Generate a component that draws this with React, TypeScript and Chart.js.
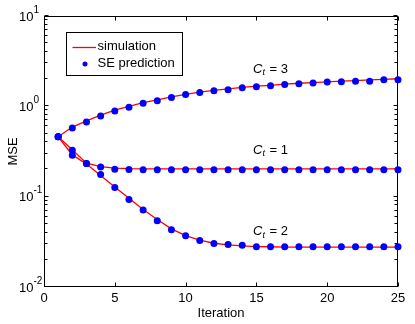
import React, { useEffect, useRef } from 'react';
import { Chart, registerables } from 'chart.js';

Chart.register(...registerables);

const FONT = '"Liberation Sans", Arial, Helvetica, sans-serif';

// ---- data ----
const iterations = [1, 2, 3, 4, 5, 6, 7, 8, 9, 10, 11, 12, 13, 14, 15, 16, 17, 18, 19, 20, 21, 22, 23, 24, 25];

const seCt3 = [0.46, 0.575, 0.67, 0.78, 0.887, 0.975, 1.08, 1.15, 1.25, 1.35, 1.42, 1.49, 1.53, 1.61, 1.65, 1.69, 1.75, 1.78, 1.81, 1.86, 1.87, 1.9, 1.9, 1.97, 1.97];
const simCt3 = [0.46, 0.59, 0.69, 0.8, 0.91, 1.0, 1.1, 1.18, 1.27, 1.36, 1.44, 1.5, 1.56, 1.62, 1.67, 1.71, 1.76, 1.8, 1.83, 1.87, 1.9, 1.93, 1.96, 1.99, 2.02];

const seCt1 = [0.46, 0.327, 0.233, 0.213, 0.201, 0.2, 0.198, 0.198, 0.198, 0.198, 0.198, 0.198, 0.198, 0.198, 0.198, 0.198, 0.198, 0.198, 0.198, 0.198, 0.198, 0.198, 0.198, 0.198, 0.198];
const simCt1 = [0.46, 0.33, 0.235, 0.215, 0.207, 0.204, 0.203, 0.203, 0.203, 0.203, 0.203, 0.203, 0.203, 0.203, 0.203, 0.203, 0.203, 0.203, 0.203, 0.203, 0.203, 0.203, 0.203, 0.203, 0.203];

const seCt2 = [0.46, 0.288, 0.233, 0.176, 0.126, 0.093, 0.071, 0.054, 0.043, 0.0369, 0.0328, 0.0304, 0.0296, 0.0289, 0.0279, 0.0279, 0.0279, 0.0279, 0.0279, 0.0279, 0.0279, 0.0279, 0.0279, 0.0279, 0.0279];
const simCt2 = [0.46, 0.29, 0.23, 0.172, 0.128, 0.096, 0.072, 0.056, 0.044, 0.037, 0.033, 0.0305, 0.0292, 0.0285, 0.028, 0.0279, 0.0277, 0.0277, 0.0277, 0.0277, 0.0277, 0.0277, 0.0277, 0.0277, 0.0277];

const xTickValues = [0, 5, 10, 15, 20, 25];
const yDecades = [-2, -1, 0, 1];
const curveLabels = ['3', '1', '2'];
const curveLabelX = [14.76, 14.76, 14.76];
const curveLabelY = [2.59, 0.329, 0.041];
const legendLabels = ['simulation', 'SE prediction'];

const RED = '#ff0000';
const BLUE = '#0000ff';

const toXY = (arr: number[]) => iterations.map((x, i) => ({ x, y: arr[i] }));

const matlabPlugin = {
  id: 'matlabDecor',
  beforeDatasetsDraw(chart: any) {
    const { ctx, chartArea: a, scales } = chart;
    const xs = scales.x;
    const ys = scales.y;
    const L = Math.round(a.left) + 0.5;
    const R = Math.round(a.right) - 0.5;
    const T = Math.round(a.top) + 0.5;
    const B = Math.round(a.bottom) - 0.5;
    ctx.save();
    ctx.strokeStyle = '#000';
    ctx.lineWidth = 1;
    ctx.strokeRect(L, T, R - L, B - T);
    ctx.beginPath();
    // x ticks (inward, bottom and top)
    xTickValues.forEach((v) => {
      const px = Math.round(xs.getPixelForValue(v)) + 0.5;
      ctx.moveTo(px, B);
      ctx.lineTo(px, B - 4);
      ctx.moveTo(px, T);
      ctx.lineTo(px, T + 4);
    });
    // y ticks (log, major + minor, left and right)
    yDecades.forEach((d) => {
      const maxM = d === yDecades[yDecades.length - 1] ? 1 : 9;
      for (let m = 1; m <= maxM; m++) {
        const v = m * Math.pow(10, d);
        const py = Math.round(ys.getPixelForValue(v)) - 0.5;
        const len = m === 1 ? 4 : 3;
        ctx.moveTo(L, py);
        ctx.lineTo(L + len, py);
        ctx.moveTo(R, py);
        ctx.lineTo(R - len, py);
      }
    });
    ctx.stroke();

    // y tick labels: 10^d
    ctx.fillStyle = '#000';
    yDecades.forEach((d) => {
      const py = ys.getPixelForValue(Math.pow(10, d));
      ctx.font = `13px ${FONT}`;
      ctx.textAlign = 'right';
      ctx.textBaseline = 'middle';
      ctx.fillText('10', a.left - 10.5, py + 1);
      ctx.font = `10px ${FONT}`;
      ctx.textAlign = 'left';
      ctx.fillText(String(d), a.left - 10.5, py - 6);
    });
    ctx.restore();
  },
  afterDatasetsDraw(chart: any) {
    const { ctx, scales } = chart;
    const xs = scales.x;
    const ys = scales.y;
    ctx.save();
    ctx.fillStyle = '#000';
    ctx.textBaseline = 'middle';
    ctx.textAlign = 'left';
    // curve annotations C_t = n
    curveLabels.forEach((lab, i) => {
      const px = xs.getPixelForValue(curveLabelX[i]);
      const py = ys.getPixelForValue(curveLabelY[i]);
      ctx.font = `italic 13px ${FONT}`;
      ctx.fillText('C', px, py);
      const w1 = ctx.measureText('C').width;
      ctx.font = `italic 9px ${FONT}`;
      ctx.fillText('t', px + w1, py + 4);
      const w2 = ctx.measureText('t').width;
      ctx.font = `13px ${FONT}`;
      ctx.fillText(' = ' + lab, px + w1 + w2 + 1, py);
    });

    // legend
    const bx = 66.5, by = 32.5, bw = 116, bh = 43;
    ctx.fillStyle = '#fff';
    ctx.fillRect(bx, by, bw, bh);
    ctx.strokeStyle = '#000';
    ctx.lineWidth = 1;
    ctx.strokeRect(bx, by, bw, bh);
    ctx.strokeStyle = RED;
    ctx.lineWidth = 1.3;
    ctx.beginPath();
    ctx.moveTo(72.5, 47.5);
    ctx.lineTo(96, 47.5);
    ctx.stroke();
    ctx.fillStyle = BLUE;
    ctx.beginPath();
    ctx.arc(85, 64, 2.5, 0, Math.PI * 2);
    ctx.fill();
    ctx.fillStyle = '#000';
    ctx.font = `13px ${FONT}`;
    ctx.fillText(legendLabels[0], 97.5, 46.5);
    ctx.fillText(legendLabels[1], 97.5, 63.5);
    ctx.restore();
  },
};

function ChartView() {
  const ref = useRef<HTMLCanvasElement | null>(null);
  useEffect(() => {
    if (!ref.current) return;
    const dotSet = (label: string, arr: number[]) => ({
      label,
      data: toXY(arr),
      showLine: false,
      pointRadius: 3.5,
      pointHoverRadius: 3.5,
      pointBackgroundColor: BLUE,
      pointBorderColor: BLUE,
      pointBorderWidth: 0,
      borderColor: BLUE,
      clip: false,
    });
    const lineSet = (label: string, arr: number[]) => ({
      label,
      data: toXY(arr),
      borderColor: RED,
      borderWidth: 1.3,
      pointRadius: 0,
      tension: 0,
      fill: false,
      clip: false,
    });
    const chart = new Chart(ref.current, {
      type: 'line',
      data: {
        datasets: [
          dotSet('SE prediction C_t=3', seCt3),
          dotSet('SE prediction C_t=1', seCt1),
          dotSet('SE prediction C_t=2', seCt2),
          lineSet('simulation C_t=3', simCt3),
          lineSet('simulation C_t=1', simCt1),
          lineSet('simulation C_t=2', simCt2),
        ] as any,
      },
      options: {
        animation: false,
        responsive: false,
        devicePixelRatio: 1,
        layout: { padding: { top: 16, right: 17, left: 0, bottom: 0 } },
        plugins: {
          legend: { display: false },
          tooltip: { enabled: false },
        },
        scales: {
          x: {
            type: 'linear',
            min: 0,
            max: 25,
            grid: { display: false, drawTicks: false },
            border: { display: false },
            ticks: {
              stepSize: 5,
              color: '#000',
              font: { family: FONT, size: 13 },
              padding: 4,
              maxRotation: 0,
            },
            title: {
              display: true,
              text: 'Iteration',
              color: '#000',
              font: { family: FONT, size: 13 },
              padding: { top: 0, bottom: 3 },
            },
            afterFit: (s: any) => {
              s.height = 37;
            },
          },
          y: {
            type: 'logarithmic',
            min: 0.01,
            max: 10,
            grid: { display: false, drawTicks: false },
            border: { display: false },
            ticks: { display: false },
            title: {
              display: true,
              text: 'MSE',
              color: '#000',
              font: { family: FONT, size: 13 },
              padding: { top: 6, bottom: 0 },
            },
            afterFit: (s: any) => {
              s.width = 44;
            },
          },
        },
      } as any,
      plugins: [matlabPlugin],
    });
    return () => chart.destroy();
  }, []);
  return <canvas ref={ref} width={415} height={324} />;
}

export default function App() {
  return (
    <div style={{ position: 'fixed', left: 0, top: 0, width: 415, height: 324, background: '#fff' }}>
      <ChartView />
    </div>
  );
}
